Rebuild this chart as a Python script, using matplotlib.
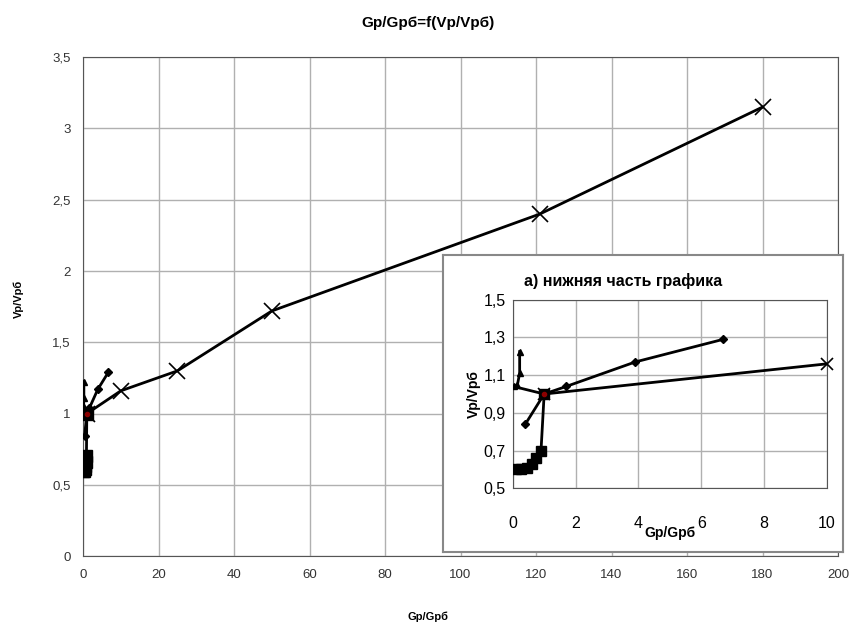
import matplotlib.pyplot as plt
from matplotlib.ticker import MultipleLocator, FuncFormatter

plt.rcParams['font.family'] = ['Liberation Sans', 'DejaVu Sans']

# данные
cross_x = [1.0, 10, 25, 50, 121, 180]
cross_y = [1.0, 1.16, 1.30, 1.72, 2.40, 3.15]

diam_x = [0.4, 1.0, 1.7, 3.9, 6.7]
diam_y = [0.84, 1.0, 1.04, 1.17, 1.29]

tri_x = [0.22, 0.22, 0.15, 0.03, 1.0]
tri_y = [1.225, 1.11, 1.05, 1.04, 1.0]

sq_x = [0.1, 0.25, 0.45, 0.6, 0.75, 0.9, 1.0]
sq_y = [0.60, 0.60, 0.61, 0.63, 0.66, 0.70, 1.0]

red_x = [1.0]
red_y = [1.0]

inset_yticks = [0.5, 0.7, 0.9, 1.1, 1.3, 1.5]

TITLE = "Gp/Gpб=f(Vp/Vpб)"
INSET_TITLE = "а) нижняя часть графика"
XLAB = "Gp/Gpб"
YLAB = "Vp/Vpб"


def comma(v, pos):
    s = ("%.1f" % v).rstrip("0").rstrip(".")
    return s.replace(".", ",")


def draw_series(ax, big):
    k = 1.0 if big else 0.85
    ax.plot(cross_x, cross_y, color="black", lw=2, zorder=3)
    # маркеры крестиков не обрезаются по краю врезки
    ax.plot(cross_x, cross_y, ls="none", color="black", marker="x", ms=11 * k,
            mew=1.2, zorder=3, clip_on=big)
    ax.plot(diam_x, diam_y, color="black", lw=2, marker="D", ms=4.5 * k, zorder=4)
    ax.plot(tri_x, tri_y, color="black", lw=2, marker="^", ms=5 * k, zorder=4)
    ax.plot(sq_x, sq_y, color="black", lw=2, marker="s", ms=9 * k, zorder=5)
    ax.plot(red_x, red_y, ls="none", marker="o", ms=3, color="#8b0000", zorder=6)


fig = plt.figure(figsize=(8.56, 6.35), dpi=100)

# основной график
ax = fig.add_axes([0.097, 0.124, 0.882, 0.786])
draw_series(ax, True)
ax.set_xlim(0, 200)
ax.set_ylim(0, 3.5)
ax.xaxis.set_major_locator(MultipleLocator(20))
ax.yaxis.set_major_locator(MultipleLocator(0.5))
ax.yaxis.set_major_formatter(FuncFormatter(comma))
ax.grid(True, color="#b0b0b0", lw=1)
ax.set_axisbelow(True)
ax.tick_params(length=0, labelsize=9.5, pad=9, colors="#333333")
for s in ax.spines.values():
    s.set_color("#555555")
fig.text(0.5, 0.963, TITLE, ha="center", va="center", fontsize=11, fontweight="bold")
fig.text(0.5, 0.028, XLAB, ha="center", va="center", fontsize=8, fontweight="bold")
fig.text(0.022, 0.53, YLAB, ha="center", va="center", fontsize=8,
         fontweight="bold", rotation=90)

# рамка врезки
box = fig.add_axes([0.518, 0.131, 0.467, 0.468])
box.set_xticks([])
box.set_yticks([])
box.set_facecolor("white")
for s in box.spines.values():
    s.set_color("#888888")
    s.set_linewidth(1.5)

# врезка: нижняя часть графика
ins = fig.add_axes([0.599, 0.231, 0.367, 0.297])
draw_series(ins, False)
ins.set_xlim(0, 10)
ins.set_ylim(0.5, 1.5)
ins.xaxis.set_major_locator(MultipleLocator(2))
ins.set_yticks(inset_yticks)
ins.yaxis.set_major_formatter(FuncFormatter(comma))
ins.grid(True, color="#b0b0b0", lw=1)
ins.set_axisbelow(True)
ins.tick_params(axis="y", length=0, labelsize=11.5, pad=5)
ins.tick_params(axis="x", length=0, labelsize=11.5, pad=20)
for s in ins.spines.values():
    s.set_color("#555555")
ins.set_xlabel(XLAB, fontsize=10, fontweight="bold", labelpad=-4)
ins.set_ylabel(YLAB, fontsize=10, fontweight="bold", labelpad=2)
ins.set_title(INSET_TITLE, fontsize=11.5, fontweight="bold", pad=10, x=0.35)

fig.savefig("out.png", dpi=100)
